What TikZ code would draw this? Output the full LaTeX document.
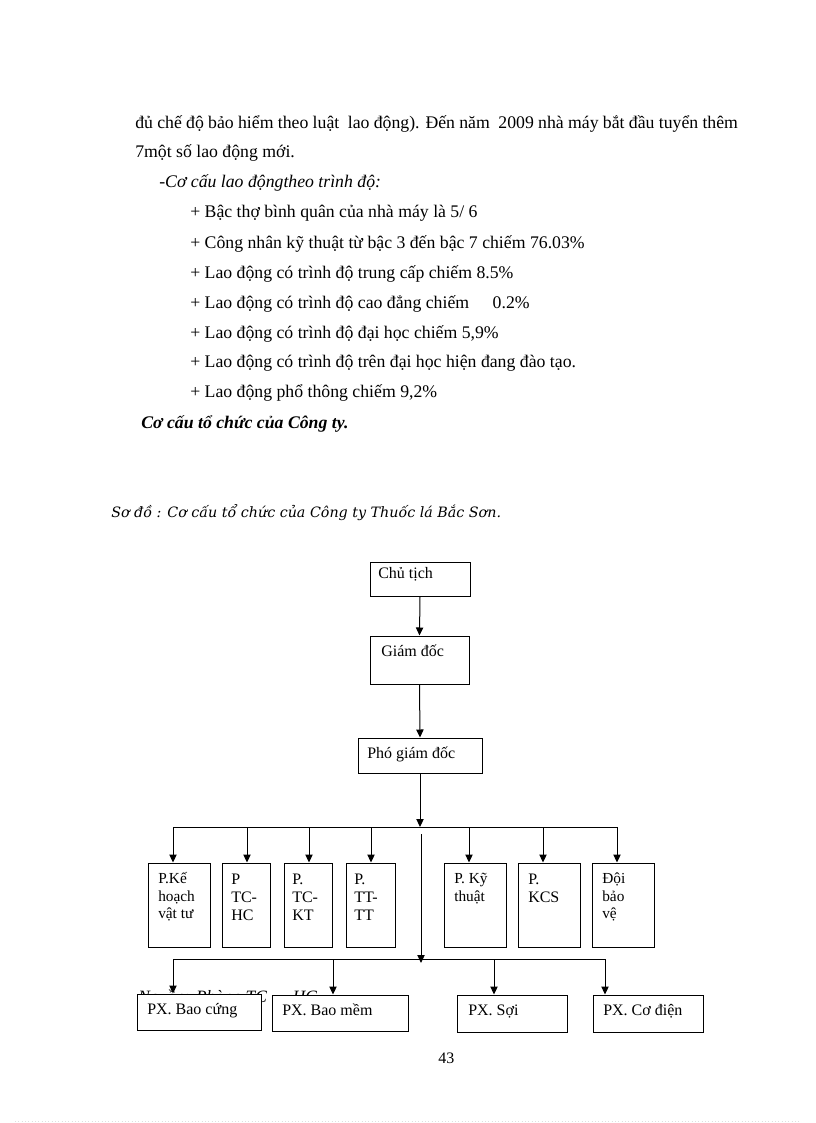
\documentclass[tikz,border=0pt]{standalone}
\usepackage{fontspec}
\setmainfont{Liberation Serif}
\newfontfamily\capfont{DejaVu Serif}
\usetikzlibrary{arrows.meta,fit}
\begin{document}
\begin{tikzpicture}[x=0.75pt,y=-0.75pt,
  box/.style={draw,line width=0.75pt,fill=white,inner sep=0pt},
  arr/.style={line width=0.75pt,-{Triangle[length=6pt,width=5.5pt]}},
  ln/.style={line width=0.75pt},
  body/.style={anchor=base west,inner sep=0pt,font=\fontsize{13.3}{15}\selectfont},
  lbl/.style={anchor=base west,inner sep=0pt,font=\fontsize{12}{14}\selectfont},
  big/.style={anchor=north west,inner sep=0pt,align=left,font=\fontsize{12}{13.5}\selectfont},
  sml/.style={anchor=north west,inner sep=0pt,align=left,font=\fontsize{11.5}{13}\selectfont}
]
\useasboundingbox (0,0) rectangle (816,1123);
\fill[white] (0,0) rectangle (816,1123);

% ---------- text ----------
\node[body] (l1) at (135,129) {\makebox[452pt][s]{đủ chế độ bảo hiểm theo luật \ lao động). Đến năm \ 2009 nhà máy bắt đầu tuyển thêm}};
\node[body] (l2) at (135,158) {7một số lao động mới.};
\node[body,font=\fontsize{13.3}{15}\selectfont\itshape] (l3) at (159,188) {-Cơ cấu lao độngtheo trình độ:};
\node[body] (b1) at (190,218) {+ Bậc thợ bình quân của nhà máy là 5/ 6};
\node[body] (b2) at (190,248) {+ Công nhân kỹ thuật từ bậc 3 đến bậc 7 chiếm 76.03\%};
\node[body] (b3) at (190,278) {+ Lao động có trình độ trung cấp chiếm 8.5\%};
\node[body] (b4) at (190,308) {+ Lao động có trình độ cao đẳng chiếm \hspace{11pt} 0.2\%};
\node[body] (b5) at (190,338) {+ Lao động có trình độ đại học chiếm 5,9\%};
\node[body] (b6) at (190,367) {+ Lao động có trình độ trên đại học hiện đang đào tạo.};
\node[body] (b7) at (190,397) {+ Lao động phổ thông chiếm 9,2\%};
\node[body,font=\fontsize{13.3}{15}\selectfont\bfseries\itshape] (hd) at (141,428) {Cơ cấu tổ chức của Công ty.};
\node[anchor=base west,inner sep=0pt,font=\capfont\itshape\fontsize{10.7}{13}\selectfont] (cap) at (111,517) {Sơ đồ : Cơ cấu tổ chức của Công ty Thuốc lá Bắc Sơn.};
\node[body,font=\fontsize{13}{15}\selectfont\itshape] (src) at (138,1002) {Nguồn: Phòng TC \ – \ HC};

% ---------- top boxes ----------
\node[box,fit={(370,562) (470,596)}] (ct) {};
\node[lbl] at (378,578) {Chủ tịch};
\node[box,fit={(370,636) (469,684)}] (gd) {};
\node[lbl] at (381,656) {Giám đốc};
\node[box,fit={(358,738) (482,773)}] (pgd) {};
\node[lbl] at (367,758) {Phó giám đốc};

\draw[arr] (ct.south) -- (gd.north);
\draw[arr] (gd.south) -- (pgd.north);

% bus 1
\coordinate (h1) at (420,827);
\coordinate (h1w) at (173,827);
\coordinate (h1e) at (617,827);
\draw[arr] (pgd.south) -- (h1);
\draw[ln] (h1w) -- (h1e);

% second row boxes
\node[box,fit={(148,863) (210,947)}] (d1) {};
\node[box,fit={(222,863) (270,947)}] (d2) {};
\node[box,fit={(284,863) (332,947)}] (d3) {};
\node[box,fit={(346,863) (395,947)}] (d4) {};
\node[box,fit={(444,863) (506,947)}] (d5) {};
\node[box,fit={(518,863) (580,947)}] (d6) {};
\node[box,fit={(592,863) (654,947)}] (d7) {};

\node[sml] at (158,871.5) {\strut P.Kế\\hoạch\\vật tư};
\node[big] at (231,871.5) {\strut P\\TC-\\HC};
\node[big] at (292,871.5) {\strut P.\\TC-\\KT};
\node[big] at (354,871.5) {\strut P.\\TT-\\TT};
\node[sml] at (454,871.5) {\strut P. Kỹ\\thuật};
\node[big] at (528,871.5) {\strut P.\\KCS};
\node[sml] at (602,871.5) {\strut Đội\\bảo\\vệ};

\coordinate (t1) at (173,827);
\coordinate (t2) at (247,827);
\coordinate (t3) at (309,827);
\coordinate (t4) at (371,827);
\coordinate (t5) at (469,827);
\coordinate (t6) at (543,827);
\coordinate (t7) at (617,827);
\draw[arr] (t1) -- (t1 |- d1.north);
\draw[arr] (t2) -- (t2 |- d2.north);
\draw[arr] (t3) -- (t3 |- d3.north);
\draw[arr] (t4) -- (t4 |- d4.north);
\draw[arr] (t5) -- (t5 |- d5.north);
\draw[arr] (t6) -- (t6 |- d6.north);
\draw[arr] (t7) -- (t7 |- d7.north);

% central line and bus 2
\coordinate (c0) at (421,834);
\coordinate (c1) at (421,963);
\draw[arr] (c0) -- (c1);
\coordinate (h2w) at (173,959);
\coordinate (h2e) at (605,959);
\draw[ln] (h2w) -- (h2e);

% bottom boxes
\node[box,fit={(137,994) (261,1030)}] (p1) {};
\node[box,fit={(272,995) (408,1031)}] (p2) {};
\node[box,fit={(457,995) (567,1032)}] (p3) {};
\node[box,fit={(593,995) (703,1032)}] (p4) {};
\node[lbl] at (147,1014) {PX. Bao cứng};
\node[lbl] at (282,1015) {PX. Bao mềm};
\node[lbl] at (468,1015) {PX. Sợi};
\node[lbl] at (603,1015) {PX. Cơ điện};

\coordinate (s1) at (173,959);
\coordinate (s2) at (333,959);
\coordinate (s3) at (494,959);
\coordinate (s4) at (605,959);
\draw[arr] (s1) -- (s1 |- p1.north);
\draw[arr] (s2) -- (s2 |- p2.north);
\draw[arr] (s3) -- (s3 |- p3.north);
\draw[arr] (s4) -- (s4 |- p4.north);

% page number and footer
\node[lbl] (pn) at (438,1063) {43};
\coordinate (f1) at (15,1121);
\coordinate (f2) at (800,1121);
\draw[gray!25,line width=0.5pt,dotted] (f1) -- (f2);
\end{tikzpicture}
\end{document}
